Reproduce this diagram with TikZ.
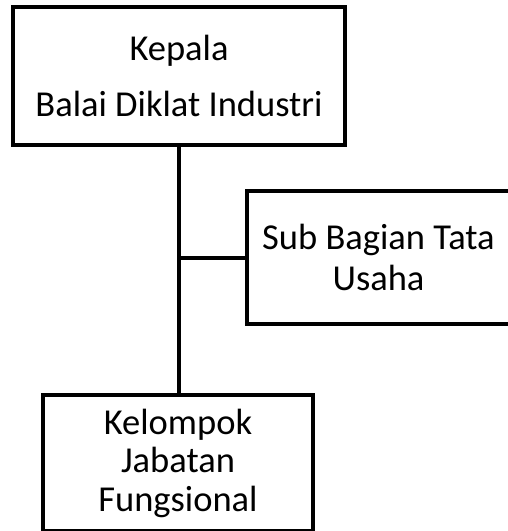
\documentclass[tikz,border=0pt]{standalone}
\usepackage{fontspec}
\setmainfont{Carlito}
\begin{document}
\begin{tikzpicture}[x=1pt,y=1pt,
      unit/.style={draw,line width=4pt,align=center,inner sep=0pt,
        font=\fontsize{36.5}{38.5}\selectfont},
      link/.style={line width=4pt}]
      \clip (0,0) rectangle (508,-531);
      \node[unit,minimum width=332,minimum height=138] (kepala) at (179,-76)
        {Kepala\\[18pt]Balai Diklat Industri};
      \node[unit,minimum width=263,minimum height=133] (tu) at (378.5,-257.5)
        {Sub Bagian Tata\\[3pt]Usaha};
      \node[unit,minimum width=270,minimum height=136] (jf) at (178,-463)
        {Kelompok\\Jabatan\\Fungsional};
      \draw[link] (kepala.south) -- (kepala.south |- jf.north);
      \draw[link] (kepala.south |- tu.west) -- (tu.west);
\end{tikzpicture}
\end{document}
